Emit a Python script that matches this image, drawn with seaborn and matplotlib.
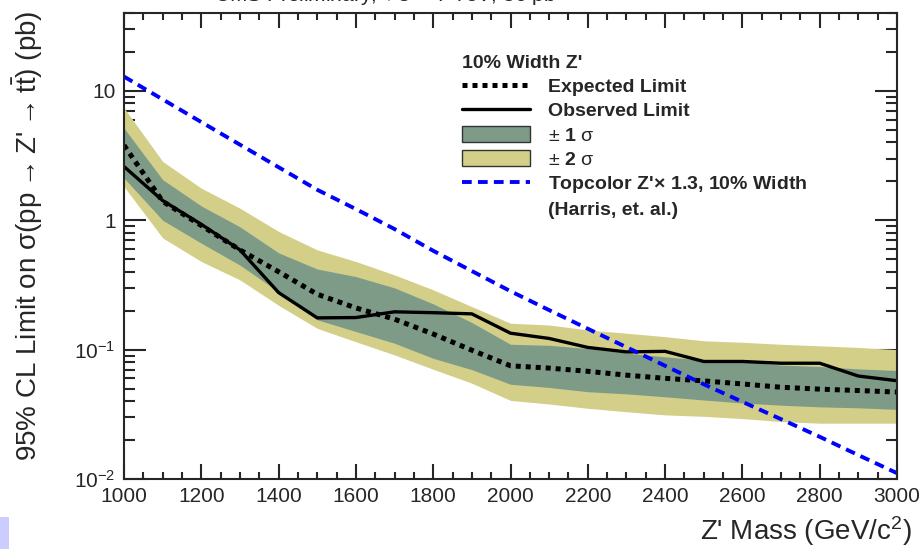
import matplotlib
matplotlib.use("Agg")
import matplotlib.pyplot as plt
import matplotlib.patches as mpatches
from matplotlib.lines import Line2D
from matplotlib.ticker import MultipleLocator, LogLocator, NullFormatter
import pandas as pd
import seaborn as sns

# Z' mass points (GeV/c^2)
mass = [1000, 1100, 1200, 1300, 1400, 1500, 1600, 1700, 1800, 1900, 2000,
        2100, 2200, 2300, 2400, 2500, 2600, 2700, 2800, 2900, 3000]

# limits in pb
expected = [3.8, 1.40, 0.91, 0.59, 0.40, 0.268, 0.21, 0.172, 0.132, 0.099, 0.075,
            0.072, 0.068, 0.0635, 0.060, 0.0573, 0.0543, 0.0512, 0.0495, 0.0483, 0.047]
observed = [2.6, 1.42, 0.93, 0.59, 0.276, 0.176, 0.177, 0.196, 0.193, 0.189, 0.134,
            0.122, 0.104, 0.096, 0.097, 0.081, 0.081, 0.0785, 0.0785, 0.0625, 0.0575]
sig1_up = [5.15, 2.06, 1.29, 0.89, 0.56, 0.42, 0.367, 0.30, 0.226, 0.162, 0.11,
           0.108, 0.102, 0.094, 0.088, 0.083, 0.081, 0.076, 0.074, 0.071, 0.069]
sig1_dn = [2.12, 1.0, 0.665, 0.45, 0.28, 0.17, 0.138, 0.112, 0.0857, 0.07, 0.054,
           0.051, 0.0473, 0.0455, 0.0432, 0.0408, 0.0387, 0.0372, 0.0361, 0.0355, 0.0345]
sig2_up = [7.4, 2.85, 1.77, 1.24, 0.82, 0.59, 0.48, 0.378, 0.29, 0.215, 0.16,
           0.155, 0.142, 0.134, 0.126, 0.117, 0.114, 0.110, 0.107, 0.104, 0.100]
sig2_dn = [1.82, 0.73, 0.48, 0.346, 0.22, 0.146, 0.115, 0.091, 0.0705, 0.055, 0.0405,
           0.038, 0.0352, 0.0331, 0.0313, 0.0305, 0.0293, 0.0278, 0.027, 0.027, 0.027]
topcolor = [12.9, 8.6, 5.74, 3.84, 2.57, 1.72, 1.22, 0.855, 0.581, 0.405, 0.283,
            0.202, 0.145, 0.1045, 0.075, 0.054, 0.0395, 0.029, 0.0212, 0.0153, 0.0111]

df = pd.DataFrame({"mass": mass, "expected": expected, "observed": observed,
                   "topcolor": topcolor})

sns.set_style("ticks")
plt.rcParams["font.family"] = ["Liberation Sans", "DejaVu Sans"]
plt.rcParams["mathtext.fontset"] = "custom"
plt.rcParams["mathtext.rm"] = "Liberation Sans"
plt.rcParams["mathtext.it"] = "Liberation Sans:italic"
plt.rcParams["mathtext.bf"] = "Liberation Sans:bold"
plt.rcParams["mathtext.default"] = "regular"

green = "#7e9b88"
yellow = "#d3cf89"

fig = plt.figure(figsize=(9.22, 5.49), dpi=100)
ax = fig.add_axes([124 / 922, 1 - 479 / 549, 773 / 922, 466 / 549])

ax.fill_between(mass, sig2_dn, sig2_up, color=yellow, lw=0)
ax.fill_between(mass, sig1_dn, sig1_up, color=green, lw=0)
sns.lineplot(data=df, x="mass", y="expected", ax=ax, color="black", lw=3.6,
             dashes=False, linestyle=(0, (1, 1)))
sns.lineplot(data=df, x="mass", y="observed", ax=ax, color="black", lw=2.4)
sns.lineplot(data=df, x="mass", y="topcolor", ax=ax, color="#0000ff", lw=2.8,
             linestyle=(0, (2.5, 1.6)))

ax.set_yscale("log")
ax.set_xlim(1000, 3000)
ax.set_ylim(0.01, 40)

ax.xaxis.set_major_locator(MultipleLocator(200))
ax.xaxis.set_minor_locator(MultipleLocator(50))
ax.set_yticks([0.01, 0.1, 1, 10], labels=["$10^{-2}$", "$10^{-1}$", "1", "10"])
ax.yaxis.set_minor_locator(LogLocator(base=10, subs=range(2, 10)))
ax.yaxis.set_minor_formatter(NullFormatter())

ax.tick_params(which="both", direction="in", top=True, right=True, width=1.5,
               labelsize=15)
ax.tick_params(axis="x", which="major", length=11, pad=6)
ax.tick_params(axis="x", which="minor", length=5)
ax.tick_params(axis="y", which="major", length=16, pad=6)
ax.tick_params(axis="y", which="minor", length=8)
for s in ax.spines.values():
    s.set_linewidth(1.5)

ax.set_xlabel("Z' Mass (GeV/c$^{2}$)", fontsize=20, loc="right")
ax.xaxis.set_label_coords(1.019, -0.075)
# arrows outside the $...$ (no relation spacing), thin spaces around them
ax.set_ylabel("95% CL Limit on σ(pp\u2009\u2192\u2009Z'\u2009\u2192\u2009t$\\bar{\\rm t}$) (pb)",
              fontsize=20, loc="top")
ax.yaxis.set_label_coords(-0.102, 1.005)

# cut-off header at the very top of the image
fig.text(0.232, 0.986, r"CMS Preliminary, $\sqrt{s}$ = 7 TeV, 36 pb$^{-1}$",
         fontsize=15, va="bottom", ha="left")

handles = [
    Line2D([], [], color="black", lw=3.6, linestyle=(0, (1, 1))),
    Line2D([], [], color="black", lw=2.4),
    mpatches.Patch(facecolor=green, edgecolor="#333333", lw=1),
    mpatches.Patch(facecolor=yellow, edgecolor="#333333", lw=1),
    Line2D([], [], color="#0000ff", lw=2.8, linestyle=(0, (2.5, 1.6))),
    Line2D([], [], color="none"),
]
labels = ["Expected Limit", "Observed Limit", r"$\pm$ $\mathbf{1}$ $\sigma$",
          r"$\pm$ $\mathbf{2}$ $\sigma$", r"Topcolor Z'$\times$ 1.3, 10% Width",
          "(Harris, et. al.)"]
leg = ax.legend(handles, labels, loc="upper left", bbox_to_anchor=(0.437, 0.91),
                frameon=False, fontsize=14, title="10% Width Z'",
                title_fontproperties={"weight": "bold", "size": 14},
                alignment="left", handlelength=3.5, handletextpad=0.93,
                labelspacing=0.28, borderpad=0, borderaxespad=0, handleheight=0.9)
for t in leg.get_texts():
    if "sigma" not in t.get_text():
        t.set_fontweight("bold")

fig.patches.append(mpatches.Rectangle((0, 0), 9 / 922, 32 / 549, transform=fig.transFigure,
                                      facecolor="#ccccff", edgecolor="none"))

fig.savefig("out.png", dpi=100)
